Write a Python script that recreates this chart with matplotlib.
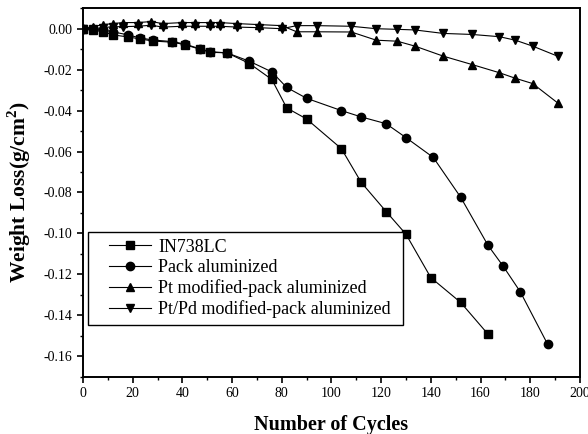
import matplotlib
matplotlib.use('Agg')
import matplotlib.pyplot as plt
from matplotlib.ticker import MultipleLocator, FormatStrFormatter
from matplotlib.legend_handler import HandlerLine2D

plt.rcParams['font.family'] = ['Liberation Serif', 'DejaVu Serif']
plt.rcParams['mathtext.fontset'] = 'custom'
plt.rcParams['mathtext.rm'] = 'Liberation Serif'
plt.rcParams['mathtext.bf'] = 'Liberation Serif:bold'
plt.rcParams['axes.unicode_minus'] = False

# IN738LC
cycles_in738 = [0, 4, 8, 12, 18, 23, 28, 36, 41, 47, 51, 58, 67, 76, 82, 90,
                104, 112, 122, 130, 140, 152, 163]
loss_in738 = [0, -0.0005, -0.0015, -0.003, -0.004, -0.005, -0.006, -0.0066,
              -0.0078, -0.010, -0.0115, -0.0118, -0.017, -0.0248, -0.0387,
              -0.0441, -0.0586, -0.0751, -0.0893, -0.1004, -0.1216, -0.1337,
              -0.1492]

# Pack aluminized
cycles_pack = [0, 4, 8, 12, 18, 23, 28, 36, 41, 47, 51, 58, 67, 76, 82, 90,
               104, 112, 122, 130, 141, 152, 163, 169, 176, 187]
loss_pack = [0, 0.0, -0.0005, -0.0015, -0.003, -0.0045, -0.0055, -0.0063,
             -0.0075, -0.0098, -0.0112, -0.0118, -0.0159, -0.0211, -0.0287,
             -0.034, -0.040, -0.0431, -0.0464, -0.0532, -0.0629, -0.0823,
             -0.1058, -0.1158, -0.1285, -0.1541]

# Pt and Pt/Pd modified-pack aluminized
cycles_top = [0, 4, 8, 12, 16, 22, 27.5, 32, 40, 45, 51, 55, 62, 71, 80, 86,
              94, 108, 118, 126.5, 133.6, 145, 156.6, 167.6, 174, 181, 191]
loss_pt = [0, 0.001, 0.002, 0.0025, 0.003, 0.003, 0.0035, 0.0025, 0.003,
           0.003, 0.003, 0.003, 0.0025, 0.002, 0.0015, -0.0015, -0.0015,
           -0.0016, -0.0056, -0.0061, -0.0085, -0.0134, -0.0175, -0.0215,
           -0.0242, -0.0268, -0.0362]
loss_ptpd = [0, 0.0, 0.0005, 0.001, 0.001, 0.0012, 0.0017, 0.0008, 0.0012,
             0.0012, 0.0012, 0.0012, 0.0008, 0.0005, 0.0, 0.0015, 0.0015,
             0.0012, 0.0, -0.0003, -0.0006, -0.0023, -0.0028, -0.0039,
             -0.0056, -0.0085, -0.0134]

labels = ['IN738LC', 'Pack aluminized', 'Pt modified-pack aluminized',
          'Pt/Pd modified-pack aluminized']

fig = plt.figure(figsize=(5.88, 4.34), dpi=100)
ax = fig.add_axes([0.1412, 0.132, 0.845, 0.849])

ms = 6
ax.plot(cycles_in738, loss_in738, '-s', color='black', lw=0.8, ms=ms-0.5, label=labels[0])
ax.plot(cycles_pack, loss_pack, '-o', color='black', lw=0.8, ms=ms, label=labels[1])
ax.plot(cycles_top, loss_pt, '-^', color='black', lw=0.8, ms=ms, label=labels[2])
ax.plot(cycles_top, loss_ptpd, '-v', color='black', lw=0.8, ms=ms, label=labels[3])

ax.set_xlim(0, 200)
ax.set_ylim(-0.17, 0.01)
ax.xaxis.set_major_locator(MultipleLocator(20))
ax.xaxis.set_minor_locator(MultipleLocator(10))
ax.yaxis.set_major_locator(MultipleLocator(0.02))
ax.yaxis.set_minor_locator(MultipleLocator(0.01))
ax.yaxis.set_major_formatter(FormatStrFormatter('%.2f'))
ax.tick_params(which='major', direction='out', length=4, width=1.2, labelsize=10)
ax.tick_params(which='minor', direction='out', length=2.5, width=1.0)
for s in ax.spines.values():
    s.set_linewidth(1.4)

ax.set_xlabel('Number of Cycles', fontsize=14.5, fontweight='bold', labelpad=11)
ax.set_ylabel(r'Weight Loss(g/cm$^\mathbf{2}$)', fontsize=15.5, fontweight='bold', labelpad=8)

leg = ax.legend(loc='upper left', bbox_to_anchor=(0.01, 0.0, 0.633, 0.394),
                mode='expand', borderaxespad=0,
                fontsize=13, fancybox=False, edgecolor='black', framealpha=1,
                labelspacing=0.18, handlelength=3.1, handletextpad=0.4,
                borderpad=0.4,
                handler_map={matplotlib.lines.Line2D: HandlerLine2D(xpad=0.78)})
leg.get_frame().set_linewidth(1.0)

fig.savefig('out.png', dpi=100)
